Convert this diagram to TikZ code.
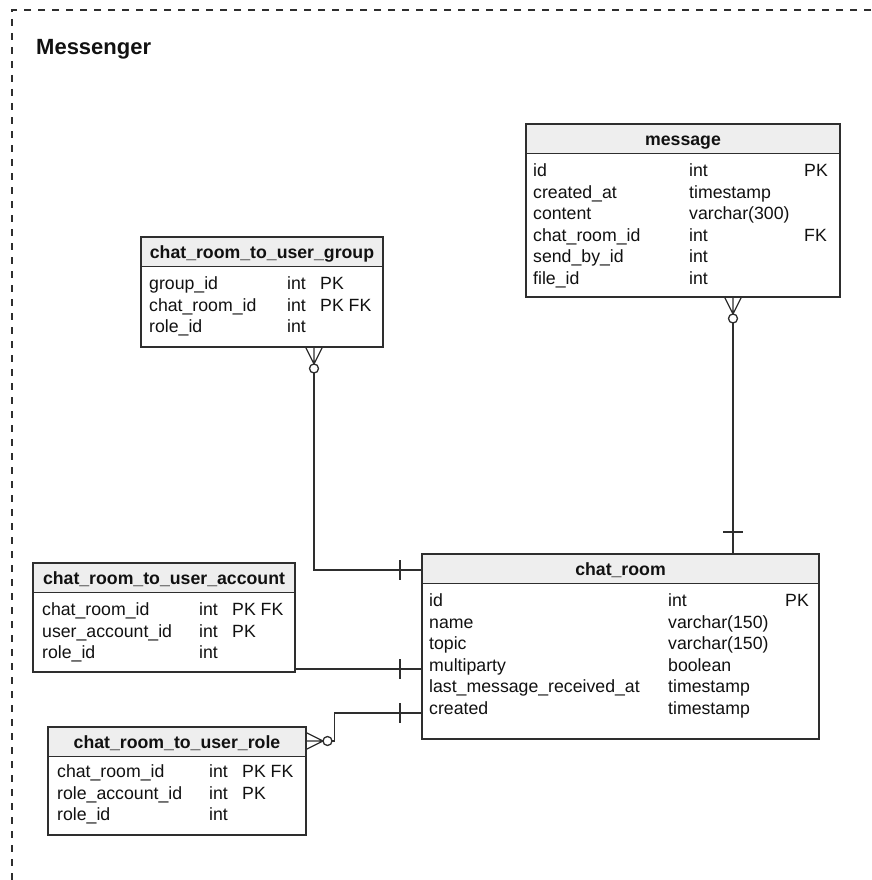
\documentclass[tikz,border=0pt]{standalone}
\usepackage{fontspec}
\setmainfont{Liberation Sans}
\usetikzlibrary{calc}
\definecolor{linec}{HTML}{2E2E2E}
\definecolor{headc}{HTML}{EEEEEE}
\definecolor{textc}{HTML}{111111}

% one text line per field: name, type, key
\newcommand\fieldrows[6]{%
  \foreach \fname/\ftype/\fkey [count=\i] in {#6} {
    \pgfmathsetmacro\ry{#5+21.6*(\i-1)}
    \node[cell] (#1-n\i) at (#2,\ry) {\fname};
    \node[cell] (#1-t\i) at (#3,\ry) {\ftype};
    \node[cell] (#1-k\i) at (#4,\ry) {\fkey};
  }}

\begin{document}
\begin{tikzpicture}[x=1pt,y=-1pt,
  frame/.style={draw=linec, line width=1.3pt, dash pattern=on 7pt off 7pt},
  link/.style={draw=linec, line width=1.3pt},
  tablebox/.style={draw=linec, line width=1.3pt, fill=white, inner sep=0pt,
    outer sep=0pt, anchor=north west},
  headbox/.style={draw=linec, line width=1.3pt, fill=headc, inner sep=0pt,
    outer sep=0pt, anchor=north west, minimum height=29.5pt,
    text height=13pt, text depth=0pt, text=textc,
    font=\bfseries\fontsize{17.7}{21}\selectfont},
  cell/.style={inner sep=0pt, anchor=west, text height=13pt, text depth=0pt,
    text=textc, font=\fontsize{17.7}{21}\selectfont},
  crowfoot/.pic={
    \draw[link] (-8.5,0) -- (0,17) -- (8.5,0) (0,0) -- (0,17);
    \draw[link, fill=white] (0,21.5) circle[radius=4.5pt];
    \coordinate (-tip) at (0,26);
  }]
\useasboundingbox (0,0) rectangle (871,880);

% package frame
\draw[frame] (871,10) -- (12,10) -- (12,880);
\node[anchor=base west, inner sep=0pt, text=textc,
  font=\bfseries\fontsize{22}{26}\selectfont] (title) at (36,55) {Messenger};

% message
\node[tablebox, minimum width=314pt, minimum height=173pt] (msg) at (526,124) {};
\node[headbox, minimum width=314pt] (msg-h) at (526,124) {message};
\fieldrows{msg}{533}{689}{804}{170}{id/int/PK, created\_at/timestamp/{},
  content/varchar(300)/{}, chat\_room\_id/int/FK, send\_by\_id/int/{},
  file\_id/int/{}}

% chat_room_to_user_group
\node[tablebox, minimum width=242pt, minimum height=110pt] (grp) at (141,237) {};
\node[headbox, minimum width=242pt] (grp-h) at (141,237) {chat\_room\_to\_user\_group};
\fieldrows{grp}{149}{287}{320}{283}{group\_id/int/PK, chat\_room\_id/int/PK FK,
  role\_id/int/{}}

% chat_room_to_user_account
\node[tablebox, minimum width=262pt, minimum height=109pt] (acc) at (33,563) {};
\node[headbox, minimum width=262pt] (acc-h) at (33,563) {chat\_room\_to\_user\_account};
\fieldrows{acc}{42}{199}{232}{609}{chat\_room\_id/int/PK FK,
  user\_account\_id/int/PK, role\_id/int/{}}

% chat_room_to_user_role
\node[tablebox, minimum width=258pt, minimum height=108pt] (role) at (48,727) {};
\node[headbox, minimum width=258pt] (role-h) at (48,727) {chat\_room\_to\_user\_role};
\fieldrows{role}{57}{209}{242}{771}{chat\_room\_id/int/PK FK,
  role\_account\_id/int/PK, role\_id/int/{}}

% chat_room
\node[tablebox, minimum width=397pt, minimum height=185pt] (cr) at (422,554) {};
\node[headbox, minimum width=397pt] (cr-h) at (422,554) {chat\_room};
\fieldrows{cr}{429}{668}{785}{600}{id/int/PK, name/varchar(150)/{},
  topic/varchar(150)/{}, multiparty/boolean/{},
  last\_message\_received\_at/timestamp/{}, created/timestamp/{}}

% relationships
\coordinate (cr-a) at ($(cr.north west)+(0,16)$);
\coordinate (cr-b) at ($(cr.north west)+(0,115)$);
\coordinate (cr-c) at ($(cr.north west)+(0,159)$);

\pic (msgfoot) at (msg.south -| 733,0) {crowfoot};
\draw[link] (msgfoot-tip) -- (msgfoot-tip |- cr.north);
\draw[link] ($(msgfoot-tip |- cr.north)+(-10,-22)$) -- ++(20,0);

\pic (grpfoot) at (grp.south -| 314,0) {crowfoot};
\draw[link] (grpfoot-tip) |- (cr-a);

\draw[link] (acc.east |- cr-b) -- (cr-b);

\pic[rotate=90] (rolefoot) at (role.east |- 0,741) {crowfoot};
\draw[link] (rolefoot-tip) -- ++(2.5,0) |- (cr-c);

\foreach \c in {cr-a,cr-b,cr-c}
  \draw[link] ($(\c)+(-22,-10)$) -- ($(\c)+(-22,10)$);
\end{tikzpicture}
\end{document}
